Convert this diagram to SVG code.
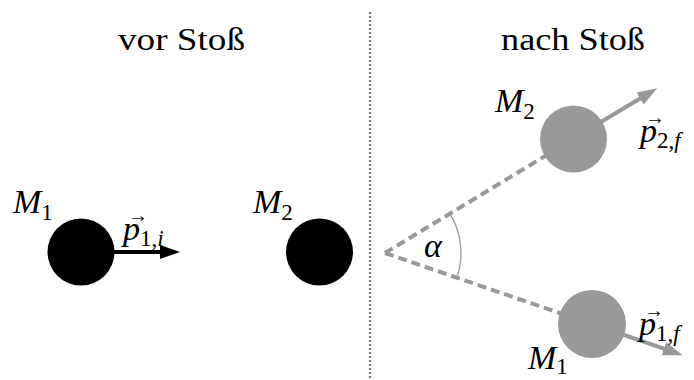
<svg xmlns="http://www.w3.org/2000/svg" width="694" height="380" viewBox="0 0 694 380">
<defs>
<marker id="ahb" markerUnits="userSpaceOnUse" markerWidth="22" markerHeight="16" viewBox="0 -8 22 16" refX="6" refY="0" orient="auto"><path d="M0,-7 L20,0 L0,7 z" fill="#000"/></marker>
<marker id="ahg" markerUnits="userSpaceOnUse" markerWidth="22" markerHeight="16" viewBox="0 -8 22 16" refX="6" refY="0" orient="auto"><path d="M0,-7 L20,0 L0,7 z" fill="#999"/></marker>
</defs>

<text font-family="Liberation Serif" font-size="32" x="118" y="50" textLength="127" lengthAdjust="spacingAndGlyphs">vor Stoß</text>
<text font-family="Liberation Serif" font-size="32" x="501" y="50" textLength="144" lengthAdjust="spacingAndGlyphs">nach Stoß</text>

<line x1="370" y1="12" x2="370" y2="380" stroke="#777" stroke-width="2.2" stroke-dasharray="2 2"/>

<g id="connectors">
<line x1="114" y1="252" x2="166" y2="252" stroke="#000" stroke-width="4" marker-end="url(#ahb)"/>
<line x1="385" y1="253" x2="560" y2="147" stroke="#999" stroke-width="4" stroke-dasharray="9 5"/>
<line x1="385" y1="253" x2="580" y2="320" stroke="#999" stroke-width="4" stroke-dasharray="9 5"/>
<line x1="600" y1="122.5" x2="645.3" y2="95.5" stroke="#999" stroke-width="4" marker-end="url(#ahg)"/>
<line x1="624" y1="335" x2="669.6" y2="350.7" stroke="#999" stroke-width="4" marker-end="url(#ahg)"/>
<path d="M450.1,213.9 A76,76 0 0,1 456.4,279" fill="none" stroke="#999" stroke-width="1.3"/>
</g>

<g id="m1-before">
<circle fill="#000" cx="81" cy="252" r="33.5"/>
<text font-family="Liberation Serif" font-style="italic" font-size="34" x="13" y="213">M<tspan font-style="normal" font-size="23" dy="7">1</tspan></text>
</g>
<g id="p1i">
<text font-family="Liberation Serif" font-size="20" x="128" y="222">→</text>
<text font-family="Liberation Serif" font-style="italic" font-size="34" x="123" y="240">p<tspan font-style="normal" font-size="23" dy="6">1,</tspan><tspan font-size="23">i</tspan></text>
</g>
<g id="m2-before">
<circle fill="#000" cx="319.5" cy="252" r="33.5"/>
<text font-family="Liberation Serif" font-style="italic" font-size="34" x="253" y="213">M<tspan font-style="normal" font-size="23" dy="7">2</tspan></text>
</g>

<g id="m2-after">
<circle fill="#999" cx="573.5" cy="139" r="33.5"/>
<text font-family="Liberation Serif" font-style="italic" font-size="34" x="495" y="112">M<tspan font-style="normal" font-size="23" dy="7">2</tspan></text>
</g>
<g id="p2f">
<text font-family="Liberation Serif" font-size="20" x="645" y="124">→</text>
<text font-family="Liberation Serif" font-style="italic" font-size="34" x="640" y="142">p<tspan font-style="normal" font-size="23" dy="6">2,</tspan><tspan font-size="23">f</tspan></text>
</g>
<g id="m1-after">
<circle fill="#999" cx="592" cy="324" r="34"/>
<text font-family="Liberation Serif" font-style="italic" font-size="34" x="528" y="369">M<tspan font-style="normal" font-size="23" dy="5">1</tspan></text>
</g>
<g id="p1f">
<text font-family="Liberation Serif" font-size="20" x="644" y="317">→</text>
<text font-family="Liberation Serif" font-style="italic" font-size="34" x="639" y="335">p<tspan font-style="normal" font-size="23" dy="6">1,</tspan><tspan font-size="23">f</tspan></text>
</g>
<g id="alpha">
<text font-family="Liberation Serif" font-style="italic" font-size="34" x="424" y="257">α</text>
</g>
</svg>
